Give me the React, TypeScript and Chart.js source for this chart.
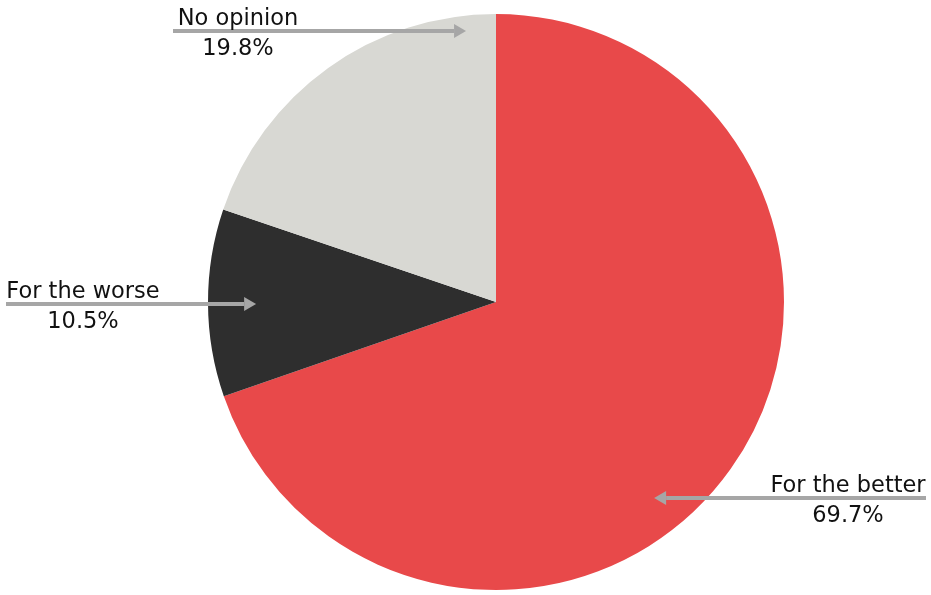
import { useEffect, useRef } from 'react';
import { Chart, registerables, Plugin } from 'chart.js';

Chart.register(...registerables);

const categories = ['For the better', 'For the worse', 'No opinion'];
const shares = [69.7, 10.5, 19.8];
const colors = ['#e8494a', '#2e2e2e', '#d8d8d3'];

// callout layout: arrow tip as a fraction of radius from centre, line outer end x, label centre x
const tipOffsets = [
  [0.549, 0.681],
  [-0.833, 0.007],
  [-0.104, -0.941],
];
const lineEnds = [926, 6, 173];
const labelCenters = [848, 83, 238];

const FONT = '"DejaVu Sans", sans-serif';

const calloutPlugin: Plugin<'pie'> = {
  id: 'callouts',
  afterDraw(chart) {
    const ctx = chart.ctx;
    const meta = chart.getDatasetMeta(0);
    meta.data.forEach((el, i) => {
      const arc = el as any;
      const cx = arc.x;
      const cy = arc.y;
      const r = arc.outerRadius;
      const tipX = cx + tipOffsets[i][0] * r;
      const tipY = Math.round(cy + tipOffsets[i][1] * r);
      const startX = lineEnds[i];
      const dir = tipX > startX ? 1 : -1;
      const head = 12;

      ctx.save();
      ctx.strokeStyle = '#a6a6a6';
      ctx.fillStyle = '#a6a6a6';
      ctx.lineWidth = 4;
      ctx.beginPath();
      ctx.moveTo(startX, tipY);
      ctx.lineTo(tipX - dir * head, tipY);
      ctx.stroke();
      ctx.beginPath();
      ctx.moveTo(tipX, tipY);
      ctx.lineTo(tipX - dir * head, tipY - 7);
      ctx.lineTo(tipX - dir * head, tipY + 7);
      ctx.closePath();
      ctx.fill();

      ctx.fillStyle = '#111111';
      ctx.font = `22.5px ${FONT}`;
      ctx.textAlign = 'center';
      ctx.textBaseline = 'alphabetic';
      ctx.fillText(categories[i], labelCenters[i], tipY - 6);
      ctx.fillText(`${shares[i]}%`, labelCenters[i], tipY + 24);
      ctx.restore();
    });
  },
};

export default function App() {
  const canvasRef = useRef<HTMLCanvasElement>(null);
  const chartInstance = useRef<Chart | null>(null);

  useEffect(() => {
    document.body.style.margin = '0';
    if (!canvasRef.current) return;
    if (chartInstance.current) chartInstance.current.destroy();

    chartInstance.current = new Chart(canvasRef.current, {
      type: 'pie',
      data: {
        labels: categories,
        datasets: [
          {
            data: shares,
            backgroundColor: colors,
            borderWidth: 0,
          },
        ],
      },
      options: {
        animation: false,
        responsive: false,
        layout: { padding: { top: 14, bottom: 5, left: 61, right: 0 } },
        plugins: {
          legend: { display: false },
          tooltip: { enabled: false },
        },
      },
      plugins: [calloutPlugin],
    });

    return () => {
      if (chartInstance.current) {
        chartInstance.current.destroy();
        chartInstance.current = null;
      }
    };
  }, []);

  return (
    <div style={{ width: 931, height: 595, background: '#ffffff' }}>
      <canvas ref={canvasRef} width={931} height={595} />
    </div>
  );
}
